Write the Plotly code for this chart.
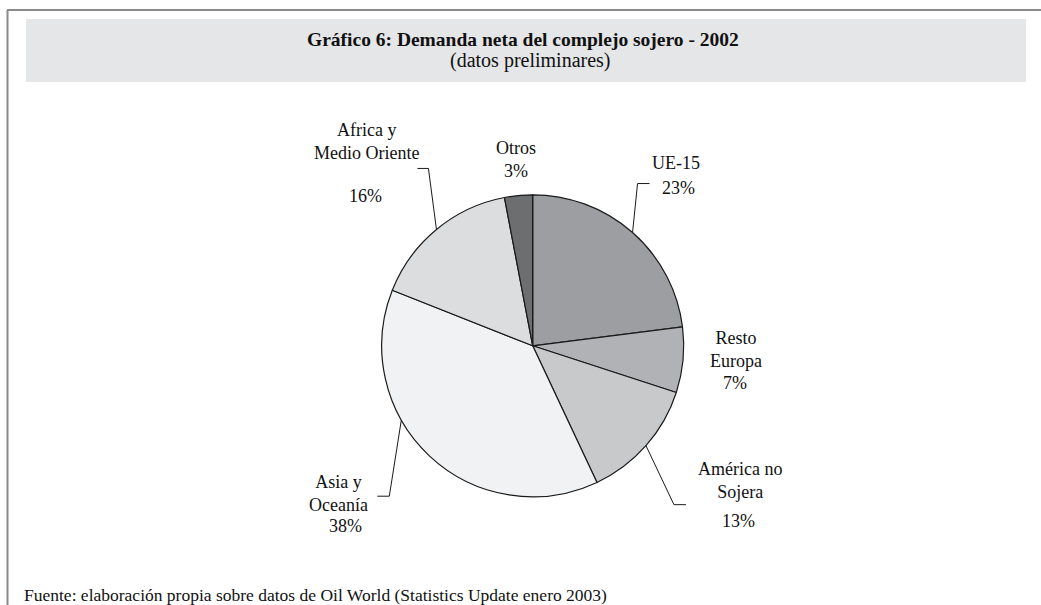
import plotly.graph_objects as go
import math

# ---- data ----
categories = ["UE-15", "Resto Europa", "América no Sojera", "Asia y Oceanía",
              "Africa y Medio Oriente", "Otros"]
label_lines = ["UE-15", "Resto<br>Europa", "América no<br>Sojera", "Asia y<br>Oceanía",
               "Africa y<br>Medio Oriente", "Otros"]
shares = [23, 7, 13, 38, 16, 3]
colors = ["#9d9ea2", "#b1b2b5", "#c8c9cb", "#f1f2f3", "#dcdddf", "#6d6e70"]

title = "Gráfico 6: Demanda neta del complejo sojero - 2002"
subtitle = "(datos preliminares)"
source = "Fuente: elaboración propia sobre datos de Oil World (Statistics Update enero 2003)"

W, H = 1041, 605
CX, CY, R = 532.7, 345.8, 151.0
FONT = "Liberation Serif, Times New Roman, serif"


def px(x):
    return x / W


def py(y):
    return 1 - y / H


# label layout (pixel centres of name and percent text, leader style)
label_style = {
    "UE-15": dict(name=(676, 163), pct=(678, 188), lead=(0.0, 5, -49, 12)),
    "Resto Europa": dict(name=(736, 349), pct=(735, 383), lead=None),
    "América no Sojera": dict(name=(740, 480), pct=(738, 521), lead=(0.0, 28, 59, 12)),
    "Asia y Oceanía": dict(name=(338, 493), pct=(345, 526), lead=(0.048, -12, 76, -12)),
    "Africa y Medio Oriente": dict(name=(366, 141), pct=(365, 196), lead=(0.0, -8, -61, -11)),
    "Otros": dict(name=(516, 148), pct=(516, 171), lead=None),
}

fig = go.Figure()
fig.add_trace(go.Pie(
    labels=categories, values=shares, sort=False, direction="clockwise",
    rotation=0, textinfo="none", hoverinfo="label+percent",
    marker=dict(colors=colors, line=dict(color="#1a1a1a", width=1.2)),
    domain=dict(x=[px(CX - R), px(CX + R)], y=[py(CY + R), py(CY - R)]),
    showlegend=False,
))

shapes = []
annotations = []


def text(t, x, y, size=18, xanchor="center"):
    annotations.append(dict(text=t, x=px(x), y=py(y), xref="paper", yref="paper",
                            xanchor=xanchor, yanchor="middle", showarrow=False,
                            font=dict(family=FONT, size=size, color="#111")))


# frame and title band
shapes.append(dict(type="rect", xref="paper", yref="paper",
                   x0=px(26), x1=px(1026), y0=py(82), y1=py(19),
                   fillcolor="#e5e6e7", line=dict(width=0), layer="below"))
shapes.append(dict(type="line", xref="paper", yref="paper",
                   x0=px(7), x1=px(1041), y0=py(10), y1=py(10),
                   line=dict(color="#8a8a8a", width=2)))
shapes.append(dict(type="line", xref="paper", yref="paper",
                   x0=px(7.5), x1=px(7.5), y0=py(10), y1=py(605),
                   line=dict(color="#8a8a8a", width=2)))

text("<b>" + title + "</b>", 523, 39, size=19.5)
text(subtitle, 530, 61, size=20)
text(source, 22, 595, size=17.5, xanchor="left")

total = sum(shares)
cum = 0
for cat, lines, v in zip(categories, label_lines, shares):
    frac_mid = (cum + v / 2) / total
    cum += v
    st = label_style[cat]
    pct = f"{round(100 * v / total)}%"
    text(lines, *st["name"])
    text(pct, *st["pct"])
    if st["lead"] is not None:
        shift, dx1, dy1, dx2 = st["lead"]
        ang = 2 * math.pi * (frac_mid + shift)
        sx = CX + R * math.sin(ang)
        sy = CY - R * math.cos(ang)
        ex, ey = sx + dx1, sy + dy1
        path = (f"M {px(sx)} {py(sy)} L {px(ex)} {py(ey)} L {px(ex + dx2)} {py(ey)}")
        shapes.append(dict(type="path", xref="paper", yref="paper", path=path,
                           line=dict(color="#1a1a1a", width=1)))

fig.update_layout(
    width=W, height=H, autosize=False,
    margin=dict(l=0, r=0, t=0, b=0),
    paper_bgcolor="white", plot_bgcolor="white",
    shapes=shapes, annotations=annotations,
)

fig.write_html("out.html")
